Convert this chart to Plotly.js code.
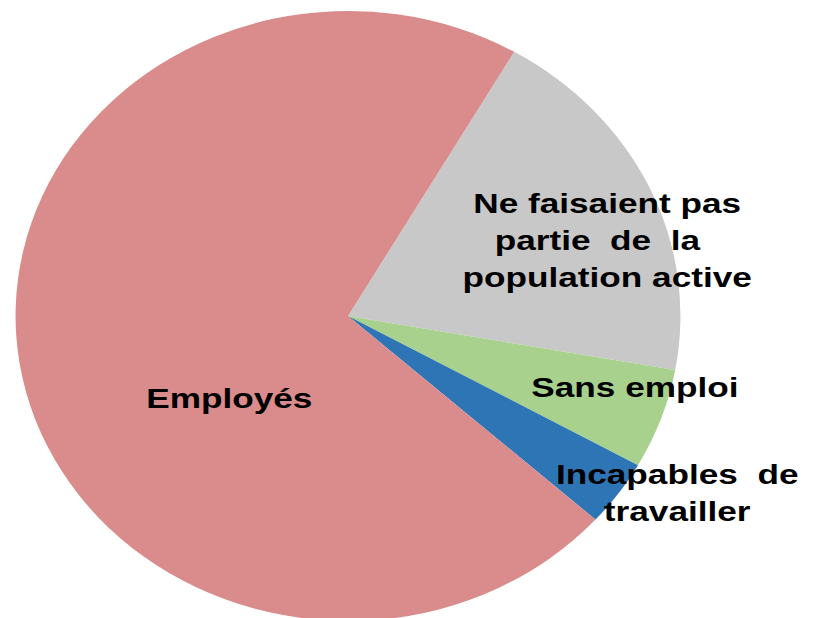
<!DOCTYPE html>
<html>
<head>
<meta charset="utf-8">
<script src="https://cdn.plot.ly/plotly-3.0.1.min.js"></script>
<style>
html, body { margin: 0; padding: 0; overflow: hidden; background: #ffffff; }
#chart { width: 813px; height: 640px; }
</style>
</head>
<body>
<div id="chart"></div>
<script>
// ---- data ----
const categories = ["Ne faisaient pas partie de la population active", "Sans emploi", "Incapables de travailler", "Employés"];
const values = [19.5, 5.3, 3.5, 71.7];
const labelTexts = [
  "Ne faisaient pas<br>partie\u00a0\u00a0de\u00a0\u00a0la\u00a0\u00a0<br>population active",
  "Sans emploi",
  "Incapables\u00a0\u00a0de<br>travailler",
  "Employés"
];

// ---- styling / layout ----
const sliceColors = ["#C8C8C8", "#A9D18E", "#2E75B6", "#DA8B8B"];
const W = 813, H = 640;
const CX = 348, CY = 316, R = 305;     // pie centre and vertical radius (px)
const PIE_SX = 1.090;                   // horizontal stretch of the pie
const TEXT_SX = 1.235;                  // horizontal stretch of the labels
const labelPos = [[607, 240], [634.5, 387], [677, 492], [229, 397.5]];

const trace = {
  type: "pie",
  labels: categories,
  values: values,
  sort: false,
  direction: "clockwise",
  rotation: 30,
  marker: { colors: sliceColors, line: { width: 0 } },
  textinfo: "none",
  hoverinfo: "none",
  domain: {
    x: [(CX - R) / W, (CX + R) / W],
    y: [1 - (CY + R) / H, 1 - (CY - R) / H]
  }
};

const annotations = labelTexts.map((t, i) => ({
  text: t,
  xref: "paper", yref: "paper",
  x: labelPos[i][0] / W,
  y: 1 - labelPos[i][1] / H,
  xanchor: "center", yanchor: "middle",
  showarrow: false,
  align: "center",
  font: { family: "Liberation Sans, Arial, sans-serif", size: 28.5, color: "#000000", weight: "bold" }
}));

const layout = {
  width: W, height: H,
  margin: { l: 0, r: 0, t: 0, b: 0, pad: 0 },
  paper_bgcolor: "#ffffff",
  showlegend: false,
  annotations: annotations
};

Plotly.newPlot("chart", [trace], layout, { displayModeBar: false, staticPlot: true }).then(gd => {
  const pl = gd.querySelector(".pielayer");
  if (pl) {
    pl.style.transformOrigin = CX + "px " + CY + "px";
    pl.style.transform = "scaleX(" + PIE_SX + ")";
  }
  gd.querySelectorAll(".annotation-text").forEach(t => {
    t.style.transformBox = "fill-box";
    t.style.transformOrigin = "center";
    t.style.transform = "scaleX(" + TEXT_SX + ")";
  });
});
</script>
</body>
</html>
